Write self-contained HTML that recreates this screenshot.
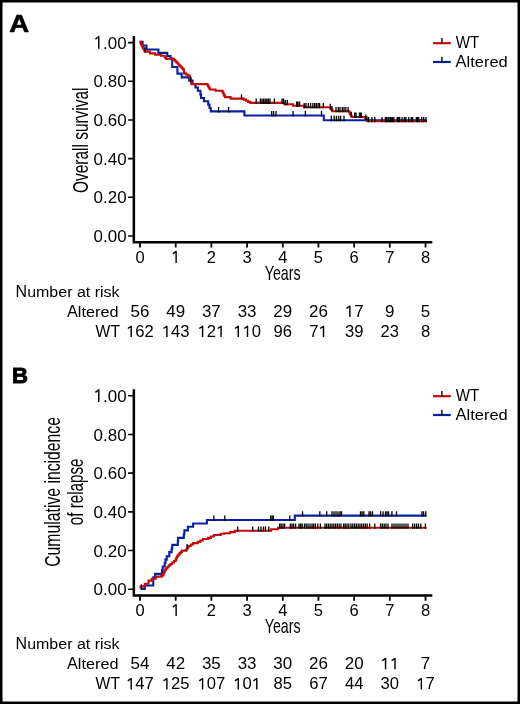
<!DOCTYPE html>
<html><head><meta charset="utf-8"><title>Survival curves</title><style>html,body{margin:0;padding:0;background:#fff;}body{width:520px;height:704px;overflow:hidden;}svg{display:block;will-change:transform;}text{fill:#000;}</style></head><body>
<svg width="520" height="704" viewBox="0 0 520 704" font-family='"Liberation Sans", sans-serif'>
<rect x="0" y="0" width="520" height="704" fill="#fff"/>
<text x="9.3" y="31.6" font-size="24.6" textLength="19.9" lengthAdjust="spacingAndGlyphs" font-weight="bold" style="stroke:#000;stroke-width:0.6px">A</text>
<text x="12.1" y="382.9" font-size="22.5" textLength="16.0" lengthAdjust="spacingAndGlyphs" font-weight="bold" style="stroke:#000;stroke-width:0.9px">B</text>
<path d="M133.85,36.00V243.55M132.6,242.30H432.3" stroke="#000" stroke-width="2.5" fill="none"/>
<path d="M128.1,42.60H133M128.1,81.28H133M128.1,119.96H133M128.1,158.64H133M128.1,197.32H133M128.1,236.00H133" stroke="#000" stroke-width="1.6" fill="none"/>
<path d="M140.00,243.30V247.50M175.69,243.30V247.50M211.38,243.30V247.50M247.07,243.30V247.50M282.76,243.30V247.50M318.45,243.30V247.50M354.14,243.30V247.50M389.83,243.30V247.50M425.52,243.30V247.50" stroke="#000" stroke-width="1.8" fill="none"/>
<g transform="translate(93.60,48.7) scale(0.9744,1)"><text x="9.68" y="0" font-size="17.4">.</text><text x="14.51" y="0" font-size="17.4">0</text><text x="24.19" y="0" font-size="17.4">0</text><path d="M5.31,0V-12.09L1.83,-9.48" fill="none" stroke="#000" stroke-width="1.48" stroke-linejoin="round"/></g>
<g transform="translate(93.60,87.38) scale(0.9744,1)"><text x="0.00" y="0" font-size="17.4">0</text><text x="9.68" y="0" font-size="17.4">.</text><text x="14.51" y="0" font-size="17.4">8</text><text x="24.19" y="0" font-size="17.4">0</text></g>
<g transform="translate(93.60,126.06) scale(0.9744,1)"><text x="0.00" y="0" font-size="17.4">0</text><text x="9.68" y="0" font-size="17.4">.</text><text x="14.51" y="0" font-size="17.4">6</text><text x="24.19" y="0" font-size="17.4">0</text></g>
<g transform="translate(93.60,164.74) scale(0.9744,1)"><text x="0.00" y="0" font-size="17.4">0</text><text x="9.68" y="0" font-size="17.4">.</text><text x="14.51" y="0" font-size="17.4">4</text><text x="24.19" y="0" font-size="17.4">0</text></g>
<g transform="translate(93.60,203.42) scale(0.9744,1)"><text x="0.00" y="0" font-size="17.4">0</text><text x="9.68" y="0" font-size="17.4">.</text><text x="14.51" y="0" font-size="17.4">2</text><text x="24.19" y="0" font-size="17.4">0</text></g>
<g transform="translate(93.60,242.1) scale(0.9744,1)"><text x="0.00" y="0" font-size="17.4">0</text><text x="9.68" y="0" font-size="17.4">.</text><text x="14.51" y="0" font-size="17.4">0</text><text x="24.19" y="0" font-size="17.4">0</text></g>
<g transform="translate(135.41,262.9) scale(1.0000,1)"><text x="0.00" y="0" font-size="16.5">0</text></g>
<g transform="translate(171.10,262.9) scale(1.0000,1)"><path d="M5.03,0V-11.47L1.73,-8.99" fill="none" stroke="#000" stroke-width="1.40" stroke-linejoin="round"/></g>
<g transform="translate(206.79,262.9) scale(1.0000,1)"><text x="0.00" y="0" font-size="16.5">2</text></g>
<g transform="translate(242.48,262.9) scale(1.0000,1)"><text x="0.00" y="0" font-size="16.5">3</text></g>
<g transform="translate(278.17,262.9) scale(1.0000,1)"><text x="0.00" y="0" font-size="16.5">4</text></g>
<g transform="translate(313.86,262.9) scale(1.0000,1)"><text x="0.00" y="0" font-size="16.5">5</text></g>
<g transform="translate(349.55,262.9) scale(1.0000,1)"><text x="0.00" y="0" font-size="16.5">6</text></g>
<g transform="translate(385.24,262.9) scale(1.0000,1)"><text x="0.00" y="0" font-size="16.5">7</text></g>
<g transform="translate(420.93,262.9) scale(1.0000,1)"><text x="0.00" y="0" font-size="16.5">8</text></g>
<text x="264.8" y="279.5" font-size="20.4" textLength="35.8" lengthAdjust="spacingAndGlyphs">Years</text>
<text transform="translate(87.9,193.0) rotate(-90)" x="0" y="0" font-size="22" textLength="105.5" lengthAdjust="spacingAndGlyphs">Overall survival</text>
<path d="M139.60,41.70H142.60V45.50H146.50V49.50H158.40V52.90H167.30V56.00H170.50V58.60H172.20V67.00H177.40V73.60H181.70V77.40H189.20V80.60H192.60V84.00H195.50V87.50H197.80V90.80H200.40V94.40H201.00V98.00H203.90V101.30H208.20V104.60H209.50V108.00H210.80V111.40H244.40V115.50H323.80V120.20H426.50" fill="none" stroke="#0620a2" stroke-width="2.1" stroke-linejoin="miter" stroke-linecap="butt"/>
<path d="M139.80,41.80H140.44V43.02H141.08V44.25H141.71V45.48H142.35V46.70H142.99V47.92H143.62V49.15H144.26V50.38H144.90V51.60H150.00V53.40H155.20V54.70H161.00V55.80H164.00H164.73V56.83H165.47V57.87H166.20V58.90H173.10H174.19V60.06H175.28V61.22H176.37V62.38H177.46V63.54H178.55V64.70H179.64V65.86H180.73V67.02H181.82V68.18H182.91V69.34H184.00V70.50V73.40H185.87V74.47H187.73V75.53H189.60V76.60H189.92V77.85H190.23V79.10H190.55V80.35H190.87V81.60H191.18V82.85H191.50V84.10H206.80H207.44V85.18H208.08V86.26H208.72V87.34H209.36V88.42H210.00V89.50H215.60V90.80H221.90H222.52V92.06H223.14V93.32H223.76V94.58H224.38V95.84H225.00V97.10H230.60V98.60H241.50H243.72V99.67H245.95V100.75H248.18V101.83H250.40V102.90H284.40V104.30H293.10V105.80H304.20V107.30H329.60H330.57V108.63H331.53V109.97H332.50V111.30H348.70H349.30V112.44H349.90V113.58H350.50V114.72H351.10V115.86H351.70V117.00H364.20H365.05V118.08H365.90V119.15H366.75V120.22H367.60V121.30H426.50" fill="none" stroke="#c80a0a" stroke-width="2.1" stroke-linejoin="miter" stroke-linecap="butt"/>
<path d="M218.60,112.40V107.00M228.60,112.40V107.00M271.70,116.50V111.10M273.60,116.50V111.10M276.00,116.50V111.10M293.10,116.50V111.10M305.40,116.50V111.10M321.50,116.50V111.10M331.30,121.20V115.80M334.20,121.20V115.80M336.40,121.20V115.80M338.60,121.20V115.80M340.60,121.20V115.80M344.00,121.20V115.80" stroke="#000" stroke-width="1.3" fill="none"/>
<path d="M145.00,52.60V47.20M190.80,82.34V76.94M241.50,99.60V94.20M256.20,103.90V98.50M260.40,103.90V98.50M262.00,103.90V98.50M263.60,103.90V98.50M265.20,103.90V98.50M266.80,103.90V98.50M268.40,103.90V98.50M270.00,103.90V98.50M274.40,103.90V98.50M282.10,103.90V98.50M283.60,103.90V98.50M285.40,105.30V99.90M287.30,105.30V99.90M296.70,106.80V101.40M297.90,106.80V101.40M299.60,106.80V101.40M304.20,108.30V102.90M306.00,108.30V102.90M308.30,108.30V102.90M310.60,108.30V102.90M312.90,108.30V102.90M314.60,108.30V102.90M316.30,108.30V102.90M318.10,108.30V102.90M319.60,108.30V102.90M323.30,108.30V102.90M330.20,109.13V103.73M331.90,111.47V106.07M336.00,112.30V106.90M338.30,112.30V106.90M340.00,112.30V106.90M342.30,112.30V106.90M344.00,112.30V106.90M345.80,112.30V106.90M348.10,112.30V106.90M351.30,117.24V111.84M354.60,118.00V112.60M356.00,118.00V112.60M359.40,118.00V112.60M360.40,118.00V112.60M361.30,118.00V112.60M365.70,119.90V114.50M366.80,121.29V115.89M368.60,122.30V116.90M371.90,122.30V116.90M374.80,122.30V116.90M382.00,122.30V116.90M385.40,122.30V116.90M386.80,122.30V116.90M388.40,122.30V116.90M390.00,122.30V116.90M391.00,122.30V116.90M392.40,122.30V116.90M393.80,122.30V116.90M397.20,122.30V116.90M398.20,122.30V116.90M399.60,122.30V116.90M402.00,122.30V116.90M404.40,122.30V116.90M405.90,122.30V116.90M408.80,122.30V116.90M411.20,122.30V116.90M412.60,122.30V116.90M416.40,122.30V116.90M417.40,122.30V116.90M418.80,122.30V116.90M421.70,122.30V116.90M423.70,122.30V116.90M426.00,122.30V116.90" stroke="#000" stroke-width="1.3" fill="none"/>
<path d="M433,43.20H450.8" stroke="#c80a0a" stroke-width="2.2"/>
<path d="M433,62.00H450.8" stroke="#0620a2" stroke-width="2.2"/>
<path d="M441.9,43.20V38.00M441.9,62.00V56.80" stroke="#000" stroke-width="1.4"/>
<text x="455.7" y="47.9" font-size="16" textLength="23.5" lengthAdjust="spacingAndGlyphs">WT</text>
<text transform="translate(455.60,66.5) scale(1.0297,1.0)" x="0" y="0" font-size="16" xml:space="preserve">A</text>
<text transform="translate(466.59,66.5) scale(1.0297,0.92)" x="0" y="0" font-size="16" xml:space="preserve">ltered</text>
<text transform="translate(15.60,296.9) scale(0.9998,1.0)" x="0" y="0" font-size="16" xml:space="preserve">N</text>
<text transform="translate(27.15,296.9) scale(0.9998,0.92)" x="0" y="0" font-size="16" xml:space="preserve">umber</text>
<text transform="translate(76.94,296.9) scale(0.9998,0.92)" x="0" y="0" font-size="16" xml:space="preserve">at</text>
<text transform="translate(94.72,296.9) scale(0.9998,0.92)" x="0" y="0" font-size="16" xml:space="preserve">risk</text>
<text transform="translate(67.00,316.9) scale(1.0178,1.0)" x="0" y="0" font-size="16" xml:space="preserve">A</text>
<text transform="translate(77.86,316.9) scale(1.0178,0.92)" x="0" y="0" font-size="16" xml:space="preserve">ltered</text>
<text x="120.0" y="337.0" font-size="16" text-anchor="end" textLength="24.4" lengthAdjust="spacingAndGlyphs">WT</text>
<g transform="translate(130.56,316.9) scale(1.0874,1)"><text x="0.00" y="0" font-size="15.6">5</text><text x="8.68" y="0" font-size="15.6">6</text></g>
<g transform="translate(166.25,316.9) scale(1.0874,1)"><text x="0.00" y="0" font-size="15.6">4</text><text x="8.68" y="0" font-size="15.6">9</text></g>
<g transform="translate(201.94,316.9) scale(1.0874,1)"><text x="0.00" y="0" font-size="15.6">3</text><text x="8.68" y="0" font-size="15.6">7</text></g>
<g transform="translate(237.63,316.9) scale(1.0874,1)"><text x="0.00" y="0" font-size="15.6">3</text><text x="8.68" y="0" font-size="15.6">3</text></g>
<g transform="translate(273.32,316.9) scale(1.0874,1)"><text x="0.00" y="0" font-size="15.6">2</text><text x="8.68" y="0" font-size="15.6">9</text></g>
<g transform="translate(309.01,316.9) scale(1.0874,1)"><text x="0.00" y="0" font-size="15.6">2</text><text x="8.68" y="0" font-size="15.6">6</text></g>
<g transform="translate(344.70,316.9) scale(1.0874,1)"><text x="8.68" y="0" font-size="15.6">7</text><path d="M4.76,0V-10.84L1.64,-8.50" fill="none" stroke="#000" stroke-width="1.33" stroke-linejoin="round"/></g>
<g transform="translate(385.12,316.9) scale(1.0868,1)"><text x="0.00" y="0" font-size="15.6">9</text></g>
<g transform="translate(420.81,316.9) scale(1.0868,1)"><text x="0.00" y="0" font-size="15.6">5</text></g>
<g transform="translate(126.11,337.0) scale(1.0668,1)"><text x="8.68" y="0" font-size="15.6">6</text><text x="17.35" y="0" font-size="15.6">2</text><path d="M4.76,0V-10.84L1.64,-8.50" fill="none" stroke="#000" stroke-width="1.33" stroke-linejoin="round"/></g>
<g transform="translate(161.81,337.0) scale(1.0668,1)"><text x="8.68" y="0" font-size="15.6">4</text><text x="17.35" y="0" font-size="15.6">3</text><path d="M4.76,0V-10.84L1.64,-8.50" fill="none" stroke="#000" stroke-width="1.33" stroke-linejoin="round"/></g>
<g transform="translate(197.50,337.0) scale(1.0668,1)"><text x="8.68" y="0" font-size="15.6">2</text><path d="M4.76,0V-10.84L1.64,-8.50M22.11,0V-10.84L18.99,-8.50" fill="none" stroke="#000" stroke-width="1.33" stroke-linejoin="round"/></g>
<g transform="translate(233.19,337.0) scale(1.0668,1)"><text x="17.35" y="0" font-size="15.6">0</text><path d="M4.76,0V-10.84L1.64,-8.50M13.43,0V-10.84L10.31,-8.50" fill="none" stroke="#000" stroke-width="1.33" stroke-linejoin="round"/></g>
<g transform="translate(273.50,337.0) scale(1.0666,1)"><text x="0.00" y="0" font-size="15.6">9</text><text x="8.68" y="0" font-size="15.6">6</text></g>
<g transform="translate(309.19,337.0) scale(1.0666,1)"><text x="0.00" y="0" font-size="15.6">7</text><path d="M13.43,0V-10.84L10.31,-8.50" fill="none" stroke="#000" stroke-width="1.33" stroke-linejoin="round"/></g>
<g transform="translate(344.88,337.0) scale(1.0666,1)"><text x="0.00" y="0" font-size="15.6">3</text><text x="8.68" y="0" font-size="15.6">9</text></g>
<g transform="translate(380.57,337.0) scale(1.0666,1)"><text x="0.00" y="0" font-size="15.6">2</text><text x="8.68" y="0" font-size="15.6">3</text></g>
<g transform="translate(420.89,337.0) scale(1.0672,1)"><text x="0.00" y="0" font-size="15.6">8</text></g>
<path d="M133.85,389.20V596.75M132.6,595.50H432.3" stroke="#000" stroke-width="2.5" fill="none"/>
<path d="M128.1,395.80H133M128.1,434.48H133M128.1,473.16H133M128.1,511.84H133M128.1,550.52H133M128.1,589.20H133" stroke="#000" stroke-width="1.6" fill="none"/>
<path d="M140.00,596.50V600.70M175.69,596.50V600.70M211.38,596.50V600.70M247.07,596.50V600.70M282.76,596.50V600.70M318.45,596.50V600.70M354.14,596.50V600.70M389.83,596.50V600.70M425.52,596.50V600.70" stroke="#000" stroke-width="1.8" fill="none"/>
<g transform="translate(93.60,401.9) scale(0.9744,1)"><text x="9.68" y="0" font-size="17.4">.</text><text x="14.51" y="0" font-size="17.4">0</text><text x="24.19" y="0" font-size="17.4">0</text><path d="M5.31,0V-12.09L1.83,-9.48" fill="none" stroke="#000" stroke-width="1.48" stroke-linejoin="round"/></g>
<g transform="translate(93.60,440.58) scale(0.9744,1)"><text x="0.00" y="0" font-size="17.4">0</text><text x="9.68" y="0" font-size="17.4">.</text><text x="14.51" y="0" font-size="17.4">8</text><text x="24.19" y="0" font-size="17.4">0</text></g>
<g transform="translate(93.60,479.26) scale(0.9744,1)"><text x="0.00" y="0" font-size="17.4">0</text><text x="9.68" y="0" font-size="17.4">.</text><text x="14.51" y="0" font-size="17.4">6</text><text x="24.19" y="0" font-size="17.4">0</text></g>
<g transform="translate(93.60,517.94) scale(0.9744,1)"><text x="0.00" y="0" font-size="17.4">0</text><text x="9.68" y="0" font-size="17.4">.</text><text x="14.51" y="0" font-size="17.4">4</text><text x="24.19" y="0" font-size="17.4">0</text></g>
<g transform="translate(93.60,556.62) scale(0.9744,1)"><text x="0.00" y="0" font-size="17.4">0</text><text x="9.68" y="0" font-size="17.4">.</text><text x="14.51" y="0" font-size="17.4">2</text><text x="24.19" y="0" font-size="17.4">0</text></g>
<g transform="translate(93.60,595.3) scale(0.9744,1)"><text x="0.00" y="0" font-size="17.4">0</text><text x="9.68" y="0" font-size="17.4">.</text><text x="14.51" y="0" font-size="17.4">0</text><text x="24.19" y="0" font-size="17.4">0</text></g>
<g transform="translate(135.41,616.1) scale(1.0000,1)"><text x="0.00" y="0" font-size="16.5">0</text></g>
<g transform="translate(171.10,616.1) scale(1.0000,1)"><path d="M5.03,0V-11.47L1.73,-8.99" fill="none" stroke="#000" stroke-width="1.40" stroke-linejoin="round"/></g>
<g transform="translate(206.79,616.1) scale(1.0000,1)"><text x="0.00" y="0" font-size="16.5">2</text></g>
<g transform="translate(242.48,616.1) scale(1.0000,1)"><text x="0.00" y="0" font-size="16.5">3</text></g>
<g transform="translate(278.17,616.1) scale(1.0000,1)"><text x="0.00" y="0" font-size="16.5">4</text></g>
<g transform="translate(313.86,616.1) scale(1.0000,1)"><text x="0.00" y="0" font-size="16.5">5</text></g>
<g transform="translate(349.55,616.1) scale(1.0000,1)"><text x="0.00" y="0" font-size="16.5">6</text></g>
<g transform="translate(385.24,616.1) scale(1.0000,1)"><text x="0.00" y="0" font-size="16.5">7</text></g>
<g transform="translate(420.93,616.1) scale(1.0000,1)"><text x="0.00" y="0" font-size="16.5">8</text></g>
<text x="264.8" y="632.7" font-size="20.4" textLength="35.8" lengthAdjust="spacingAndGlyphs">Years</text>
<text transform="translate(60.2,566.8) rotate(-90)" x="0" y="0" font-size="22.3" textLength="149.8" lengthAdjust="spacingAndGlyphs">Cumulative incidence</text>
<text transform="translate(83.4,525.2) rotate(-90)" x="0" y="0" font-size="22.3" textLength="66.7" lengthAdjust="spacingAndGlyphs">of relapse</text>
<path d="M140.50,588.90H144.80V585.50H153.30V577.30H155.10V573.90H162.00V570.00H162.70V566.50H164.70V563.10H165.40V559.60H166.70V556.20H169.30V552.10H171.60V548.60H172.30V544.90H177.80V541.40H178.10V537.90H183.80V534.20H184.40V530.40H187.90V526.70H193.10V523.50H206.90V520.00H294.80V515.60H426.50" fill="none" stroke="#0620a2" stroke-width="2.1" stroke-linejoin="miter" stroke-linecap="butt"/>
<path d="M140.60,588.50V586.40H144.80V583.80H148.50V580.60H151.70V578.80H155.80V576.60H160.00H161.50V575.60H163.00V574.60H163.57V573.30H164.15V572.00H164.73V570.70H165.30V569.40H166.43V568.07H167.57V566.73H168.70V565.40H170.45V563.95H172.20V562.50H173.95V561.05H175.70V559.60H176.27V558.27H176.83V556.93H177.40V555.60H178.55V554.35H179.70V553.10H180.85V551.85H182.00V550.60H186.20V549.80H186.97V548.53H187.73V547.27H188.50V546.00H190.80V544.55H193.10V543.10H197.70V541.90H200.30V540.45H202.90V539.00H208.10V537.90H210.95V536.45H213.80V535.00H220.80V533.80H224.20V533.20H230.00V532.10H234.80V530.80H271.20V529.30H278.10V527.80H426.50" fill="none" stroke="#c80a0a" stroke-width="2.1" stroke-linejoin="miter" stroke-linecap="butt"/>
<path d="M213.80,521.00V515.60M224.80,521.00V515.60M270.60,521.00V515.60M272.10,521.00V515.60M273.50,521.00V515.60M289.80,521.00V515.60M302.50,516.60V511.20M319.80,516.60V511.20M326.70,516.60V511.20M332.00,516.60V511.20M334.00,516.60V511.20M336.00,516.60V511.20M338.00,516.60V511.20M340.00,516.60V511.20M341.50,516.60V511.20M360.50,516.60V511.20M362.10,516.60V511.20M363.80,516.60V511.20M369.00,516.60V511.20M370.60,516.60V511.20M372.50,516.60V511.20M380.60,516.60V511.20M383.00,516.60V511.20M385.50,516.60V511.20M387.00,516.60V511.20M388.60,516.60V511.20M391.90,516.60V511.20M396.50,516.60V511.20M421.90,516.60V511.20M423.60,516.60V511.20M425.80,516.60V511.20" stroke="#000" stroke-width="1.3" fill="none"/>
<path d="M141.40,589.60V584.20M187.10,549.31V543.91M237.70,531.80V526.40M252.70,531.80V526.40M258.50,531.80V526.40M261.00,531.80V526.40M263.50,531.80V526.40M265.50,531.80V526.40M268.80,531.80V526.40M279.60,528.80V523.40M281.20,528.80V523.40M283.00,528.80V523.40M284.60,528.80V523.40M290.40,528.80V523.40M292.00,528.80V523.40M293.60,528.80V523.40M295.60,528.80V523.40M299.00,528.80V523.40M300.60,528.80V523.40M302.20,528.80V523.40M304.50,528.80V523.40M306.20,528.80V523.40M308.00,528.80V523.40M310.00,528.80V523.40M312.00,528.80V523.40M313.60,528.80V523.40M315.40,528.80V523.40M317.80,528.80V523.40M320.40,528.80V523.40M325.00,528.80V523.40M326.60,528.80V523.40M328.40,528.80V523.40M330.20,528.80V523.40M332.00,528.80V523.40M333.80,528.80V523.40M335.60,528.80V523.40M337.40,528.80V523.40M339.20,528.80V523.40M341.00,528.80V523.40M343.60,528.80V523.40M345.20,528.80V523.40M347.00,528.80V523.40M348.80,528.80V523.40M351.00,528.80V523.40M352.80,528.80V523.40M354.60,528.80V523.40M356.40,528.80V523.40M358.20,528.80V523.40M360.00,528.80V523.40M361.80,528.80V523.40M363.60,528.80V523.40M365.40,528.80V523.40M367.20,528.80V523.40M369.60,528.80V523.40M374.80,528.80V523.40M380.60,528.80V523.40M382.40,528.80V523.40M384.20,528.80V523.40M386.00,528.80V523.40M388.00,528.80V523.40M392.00,528.80V523.40M394.00,528.80V523.40M396.00,528.80V523.40M398.00,528.80V523.40M400.00,528.80V523.40M402.00,528.80V523.40M404.00,528.80V523.40M406.00,528.80V523.40M408.00,528.80V523.40M412.70,528.80V523.40M414.60,528.80V523.40M416.60,528.80V523.40M418.50,528.80V523.40M420.80,528.80V523.40M425.40,528.80V523.40" stroke="#000" stroke-width="1.3" fill="none"/>
<path d="M433,396.20H450.8" stroke="#c80a0a" stroke-width="2.2"/>
<path d="M433,415.00H450.8" stroke="#0620a2" stroke-width="2.2"/>
<path d="M441.9,396.20V391.00M441.9,415.00V409.80" stroke="#000" stroke-width="1.4"/>
<text x="455.7" y="400.9" font-size="16" textLength="23.5" lengthAdjust="spacingAndGlyphs">WT</text>
<text transform="translate(455.60,419.5) scale(1.0297,1.0)" x="0" y="0" font-size="16" xml:space="preserve">A</text>
<text transform="translate(466.59,419.5) scale(1.0297,0.92)" x="0" y="0" font-size="16" xml:space="preserve">ltered</text>
<text transform="translate(15.60,648.9) scale(0.9998,1.0)" x="0" y="0" font-size="16" xml:space="preserve">N</text>
<text transform="translate(27.15,648.9) scale(0.9998,0.92)" x="0" y="0" font-size="16" xml:space="preserve">umber</text>
<text transform="translate(76.94,648.9) scale(0.9998,0.92)" x="0" y="0" font-size="16" xml:space="preserve">at</text>
<text transform="translate(94.72,648.9) scale(0.9998,0.92)" x="0" y="0" font-size="16" xml:space="preserve">risk</text>
<text transform="translate(67.00,669.2) scale(1.0178,1.0)" x="0" y="0" font-size="16" xml:space="preserve">A</text>
<text transform="translate(77.86,669.2) scale(1.0178,0.92)" x="0" y="0" font-size="16" xml:space="preserve">ltered</text>
<text x="120.0" y="689.4" font-size="16" text-anchor="end" textLength="24.4" lengthAdjust="spacingAndGlyphs">WT</text>
<g transform="translate(130.56,669.2) scale(1.0874,1)"><text x="0.00" y="0" font-size="15.6">5</text><text x="8.68" y="0" font-size="15.6">4</text></g>
<g transform="translate(166.25,669.2) scale(1.0874,1)"><text x="0.00" y="0" font-size="15.6">4</text><text x="8.68" y="0" font-size="15.6">2</text></g>
<g transform="translate(201.94,669.2) scale(1.0874,1)"><text x="0.00" y="0" font-size="15.6">3</text><text x="8.68" y="0" font-size="15.6">5</text></g>
<g transform="translate(237.63,669.2) scale(1.0874,1)"><text x="0.00" y="0" font-size="15.6">3</text><text x="8.68" y="0" font-size="15.6">3</text></g>
<g transform="translate(273.32,669.2) scale(1.0874,1)"><text x="0.00" y="0" font-size="15.6">3</text><text x="8.68" y="0" font-size="15.6">0</text></g>
<g transform="translate(309.01,669.2) scale(1.0874,1)"><text x="0.00" y="0" font-size="15.6">2</text><text x="8.68" y="0" font-size="15.6">6</text></g>
<g transform="translate(344.70,669.2) scale(1.0874,1)"><text x="0.00" y="0" font-size="15.6">2</text><text x="8.68" y="0" font-size="15.6">0</text></g>
<g transform="translate(380.39,669.2) scale(1.0874,1)"><path d="M4.76,0V-10.84L1.64,-8.50M13.43,0V-10.84L10.31,-8.50" fill="none" stroke="#000" stroke-width="1.33" stroke-linejoin="round"/></g>
<g transform="translate(420.81,669.2) scale(1.0868,1)"><text x="0.00" y="0" font-size="15.6">7</text></g>
<g transform="translate(126.11,689.4) scale(1.0668,1)"><text x="8.68" y="0" font-size="15.6">4</text><text x="17.35" y="0" font-size="15.6">7</text><path d="M4.76,0V-10.84L1.64,-8.50" fill="none" stroke="#000" stroke-width="1.33" stroke-linejoin="round"/></g>
<g transform="translate(161.81,689.4) scale(1.0668,1)"><text x="8.68" y="0" font-size="15.6">2</text><text x="17.35" y="0" font-size="15.6">5</text><path d="M4.76,0V-10.84L1.64,-8.50" fill="none" stroke="#000" stroke-width="1.33" stroke-linejoin="round"/></g>
<g transform="translate(197.50,689.4) scale(1.0668,1)"><text x="8.68" y="0" font-size="15.6">0</text><text x="17.35" y="0" font-size="15.6">7</text><path d="M4.76,0V-10.84L1.64,-8.50" fill="none" stroke="#000" stroke-width="1.33" stroke-linejoin="round"/></g>
<g transform="translate(233.19,689.4) scale(1.0668,1)"><text x="8.68" y="0" font-size="15.6">0</text><path d="M4.76,0V-10.84L1.64,-8.50M22.11,0V-10.84L18.99,-8.50" fill="none" stroke="#000" stroke-width="1.33" stroke-linejoin="round"/></g>
<g transform="translate(273.50,689.4) scale(1.0666,1)"><text x="0.00" y="0" font-size="15.6">8</text><text x="8.68" y="0" font-size="15.6">5</text></g>
<g transform="translate(309.19,689.4) scale(1.0666,1)"><text x="0.00" y="0" font-size="15.6">6</text><text x="8.68" y="0" font-size="15.6">7</text></g>
<g transform="translate(344.88,689.4) scale(1.0666,1)"><text x="0.00" y="0" font-size="15.6">4</text><text x="8.68" y="0" font-size="15.6">4</text></g>
<g transform="translate(380.57,689.4) scale(1.0666,1)"><text x="0.00" y="0" font-size="15.6">3</text><text x="8.68" y="0" font-size="15.6">0</text></g>
<g transform="translate(416.26,689.4) scale(1.0666,1)"><text x="8.68" y="0" font-size="15.6">7</text><path d="M4.76,0V-10.84L1.64,-8.50" fill="none" stroke="#000" stroke-width="1.33" stroke-linejoin="round"/></g>
<rect x="0" y="0" width="520" height="704" fill="none" stroke="#000" stroke-width="5"/>
</svg>
</body></html>
